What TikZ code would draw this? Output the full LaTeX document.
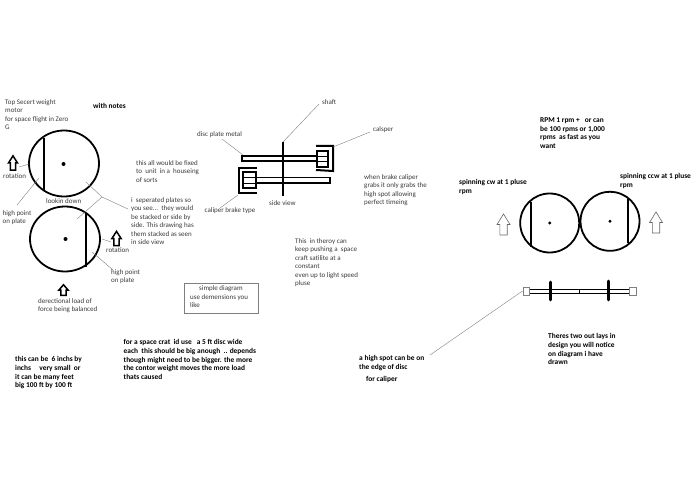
\documentclass[tikz,border=0pt]{standalone}
\usepackage{fontspec}
\setmainfont{Carlito}
\definecolor{notegray}{HTML}{3A3A3A}
\definecolor{leadergray}{HTML}{7F7F7F}
\tikzset{
	note/.style={anchor=north west, inner sep=0, yshift=-1.5pt, align=left, text=notegray, font=\fontsize{7}{8.4}\selectfont},
	boldnote/.style={anchor=north west, inner sep=0, yshift=-1.5pt, align=left, text=black, font=\fontsize{7.4}{8.6}\selectfont\bfseries},
	leader/.style={leadergray, thin},
	heavy/.style={line width=2pt},
	disc/.style={line width=1.8pt},
	uparrow/.pic={\draw [pic actions] (-3.7, 10.5) -- (-3.7, 0) -- (-6.5, 0) -- (0, -10.5) -- (6.5, 0) -- (3.7, 0) -- (3.7, 10.5) -- cycle;},
	blackarrow/.style={line width=1.5pt, fill=white, miter limit=4},
	hollowarrow/.style={draw=leadergray!80!black, line width=.6pt, fill=white}
}

\begin{document}
\begin{tikzpicture}[x=1pt, y=-1pt]
		\useasboundingbox (0, 0) rectangle (695, 494);
		% draw top view discs
		\draw [disc] (64, 163.5) ellipse [x radius=35, y radius=33];
		\draw [disc] (65, 239) ellipse [x radius=35, y radius=32.5];
		\fill (63.5, 164) circle [radius=2];
		\fill (65.5, 239) circle [radius=2];
		\draw [heavy] (43.5, 138) -- (43.5, 190);
		\draw [heavy] (86, 213) -- (86, 267);
		% draw black arrows
		\pic (rotleft) [blackarrow, xscale=.7, yscale=.68] at (13, 163) {uparrow};
		\pic (rotright) [blackarrow, xscale=.7, yscale=.68] at (116.5, 238.5) {uparrow};
		\pic (loadarrow) [blackarrow, xscale=.7, yscale=.5] at (63.5, 290) {uparrow};
		% draw side view
		\draw [heavy] (283, 142) -- (283, 196);
		\draw [line width=1.3pt] (242, 156) rectangle (317, 161);
		\draw [line width=1.3pt] (256, 177.5) rectangle (330, 183);
		% draw right caliper
		\draw [heavy] (316, 146) -- (333, 146) -- (333, 171) -- (316, 170);
		\draw [heavy] (317, 151) rectangle (328, 167);
		\draw [thick] (317, 156) -- (328, 156);
		\draw [thick] (317, 161) -- (328, 161);
		% draw left caliper
		\draw [heavy] (257, 168) -- (239, 168) -- (239, 193) -- (257, 193);
		\draw [heavy] (243, 172) rectangle (256, 188);
		\draw [thick] (243, 177.5) -- (256, 177.5);
		\draw [thick] (243, 183) -- (256, 183);
		% draw pair of discs
		\draw [disc] (549.7, 223) circle [radius=29.5];
		\draw [disc] (610, 221.3) circle [radius=29.5];
		\fill (549.7, 223) circle [radius=1.6];
		\fill (610, 221.3) circle [radius=1.6];
		\draw [heavy] (531, 202) -- (531, 247);
		\draw [heavy] (628, 199) -- (628, 243);
		\pic (cwarrow) [hollowarrow] at (503.5, 224.5) {uparrow};
		\pic (ccwarrow) [hollowarrow] at (656, 222.5) {uparrow};
		% draw axle
		\draw [thin] (529, 289) -- (629, 289);
		\draw [thin] (529, 293.5) -- (629, 293.5);
		\draw [leader] (523, 287.5) rectangle (529.5, 295.5);
		\draw [leader] (629.5, 287.5) rectangle (636, 295.5);
		\draw [line width=2.6pt, line cap=round] (550.3, 282) -- (550.3, 300);
		\draw [line width=2.6pt, line cap=round] (608.3, 281) -- (608.3, 300);
		\draw [thin] (579.3, 289.5) -- (579.3, 293);
		% draw leader ends
		\coordinate (rota) at (29, 164);
		\coordinate (rotb) at (19, 167);
		\coordinate (higha) at (17, 205);
		\coordinate (highb) at (39, 178);
		\coordinate (rotc) at (102, 239);
		\coordinate (rotd) at (111, 242);
		\coordinate (highc) at (113, 270);
		\coordinate (highd) at (92, 252);
		\coordinate (plates) at (128, 209);
		\coordinate (platefork) at (102, 197);
		\coordinate (platea) at (86, 182);
		\coordinate (plateb) at (77, 219);
		\coordinate (shaftend) at (283, 142);
		\coordinate (shaftnote) at (319, 104);
		\coordinate (discend) at (243, 155);
		\coordinate (discnote) at (222, 139);
		\coordinate (calend) at (333, 147);
		\coordinate (calnote) at (370, 132);
		\coordinate (brakeend) at (238, 195);
		\coordinate (brakenote) at (220, 208);
		\coordinate (spotend) at (522.5, 291);
		\coordinate (spotnote) at (430, 355);
		% draw leaders
		\draw [leader] (rota) -- (rotb);
		\draw [leader] (higha) -- (highb);
		\draw [leader] (rotc) -- (rotd);
		\draw [leader] (highc) -- (highd);
		\draw [leader] (plates) -- (platefork) -- (platea);
		\draw [leader] (platefork) -- (plateb);
		\draw [leader] (shaftnote) -- (shaftend);
		\draw [leader] (discnote) -- (discend);
		\draw [leader] (calnote) -- (calend);
		\draw [leader] (brakenote) -- (brakeend);
		\draw [leader] (spotnote) -- (spotend);
		% draw left notes
		\node [note] (title) at (5, 98) {Top Secert weight\\motor\\for space flight in Zero\\G};
		\node [boldnote] (withnotes) at (93, 102) {with notes};
		\node [note] (rotlabela) at (3, 172) {rotation};
		\node [note] (lookin) at (46, 197) {lookin down};
		\node [note] (highlabela) at (2.5, 209) {high point\\on plate};
		\node [note] (rotlabelb) at (106, 246) {rotation};
		\node [note] (highlabelb) at (111, 268) {high point\\on plate};
		\node [note] (loadlabel) at (38, 297) {derectional load of\\force being balanced};
		\node [boldnote] (smallnote) at (15, 355) {this can be~~6 inchs by\\inchs~~~~~very small~~or\\it can be many feet\\big 100 ft by 100 ft};
		% draw middle notes
		\node [note] (fixednote) at (136, 159) {this all would be fixed\\to~~unit~~in a~~houseing\\of sorts};
		\node [note] (platenote) at (131, 196) {i~~seperated plates so\\you see...~~they would\\be stacked or side by\\side. This drawing has\\them stacked as seen\\in side view};
		\node [note] (shaftlabel) at (322, 98) {shaft};
		\node [note] (disclabel) at (197, 130) {disc plate metal};
		\node [note] (callabel) at (373, 125) {calsper};
		\node [note] (brakelabel) at (204.5, 206) {caliper brake type};
		\node [note] (sidelabel) at (269, 199) {side view};
		\node [note] (grabnote) at (364, 173) {when brake caliper\\grabs it only grabs the\\high spot allowing\\perfect timeing};
		\node [note] (pushnote) at (295, 237) {This~~in theroy can\\keep pushing a~~space\\craft satilite at a\\constant\\even up to light speed\\pluse};
		% draw simple diagram box
		\draw [leader, semithick] (184, 283) rectangle (258, 313);
		\node [note] (boxtitle) at (199, 284) {simple diagram};
		\node [note] (boxtext) at (190, 292.5) {use demensions you\\like};
		\node [boldnote] (cratnote) at (123.5, 338) {for a space crat~~id use~~~a 5 ft disc wide\\each~~this should be big anough~~.. depends\\though might need to be bigger. the more\\the contor weight moves the more load\\thats caused};
		% draw right notes
		\node [boldnote] (rpmnote) at (540, 116) {RPM 1 rpm +~~~or can\\be 100 rpms or 1,000\\rpms~~as fast as you\\want};
		\node [boldnote] (cwlabel) at (459, 178) {spinning cw at 1 pluse\\rpm};
		\node [boldnote] (ccwlabel) at (620, 172) {spinning ccw at 1 pluse\\rpm};
		\node [boldnote] (spotlabel) at (359, 354) {a high spot can be on\\the edge of disc};
		\node [boldnote] (forcaliper) at (366, 375) {for caliper};
		\node [boldnote] (layslabel) at (548, 332) {Theres two out lays in\\design you will notice\\on diagram i have\\drawn};
	\end{tikzpicture}
\end{document}
